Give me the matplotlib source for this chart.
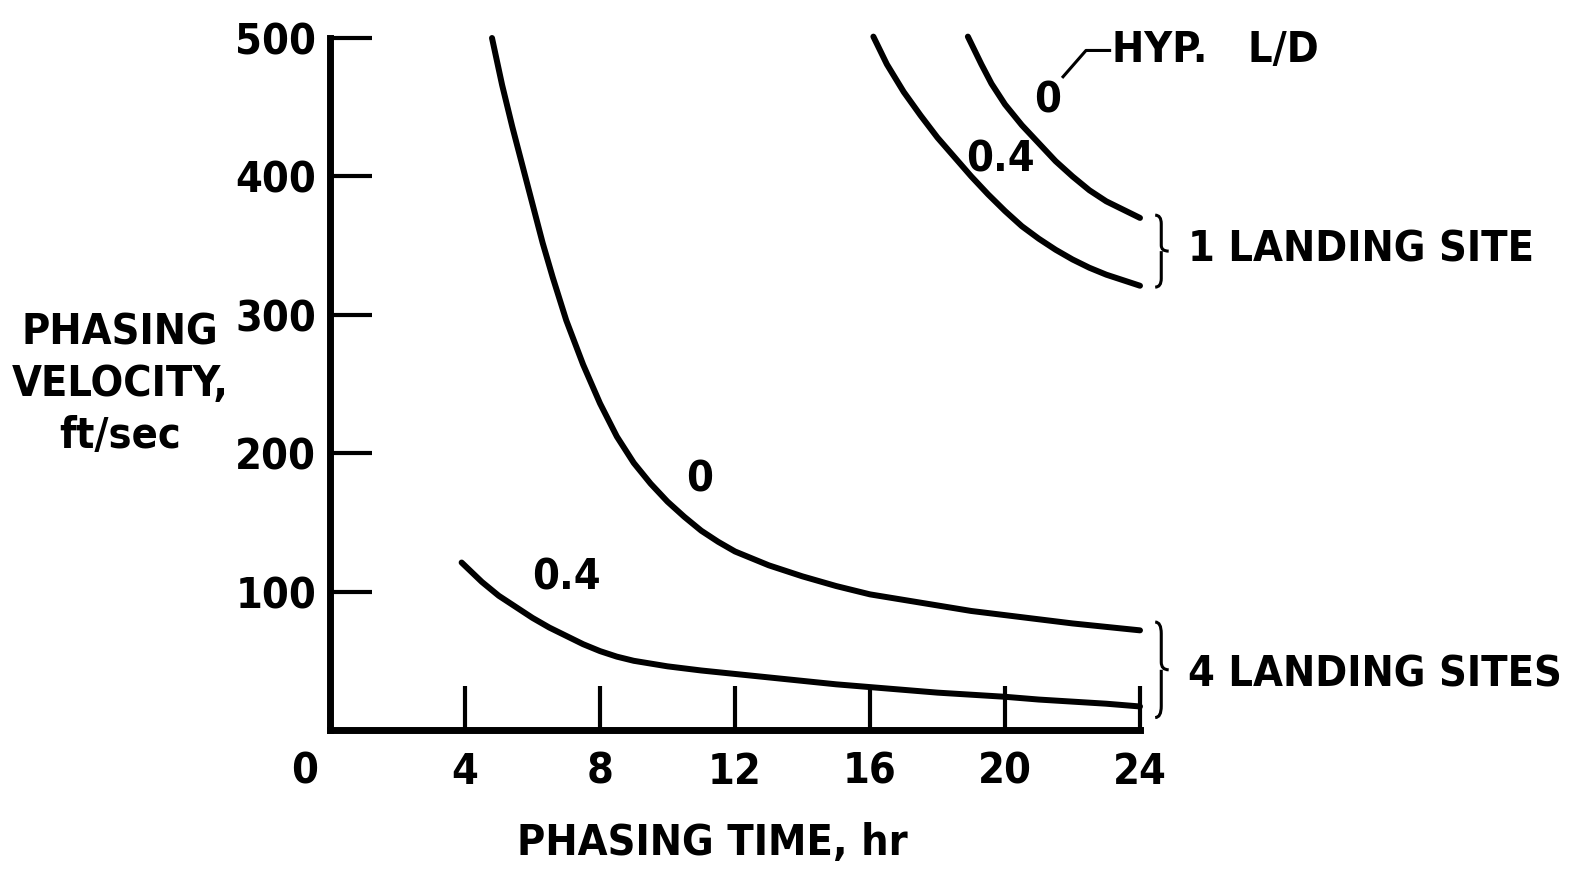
import matplotlib
matplotlib.use("Agg")
import matplotlib.pyplot as plt
import matplotlib.transforms as mtransforms
from matplotlib.path import Path
from matplotlib.patches import PathPatch

plt.rcParams['font.family'] = ['DejaVu Sans']
plt.rcParams['font.stretch'] = 'condensed'

# ---- data ----
x_ticks = [0, 4, 8, 12, 16, 20, 24]
x_tick_labels = ['0', '4', '8', '12', '16', '20', '24']
y_ticks = [100, 200, 300, 400, 500]
y_tick_labels = ['100', '200', '300', '400', '500']

# 4 landing sites, hyp. L/D = 0
t4_ld0 = [4.8, 5.1, 5.4, 5.7, 6.0, 6.3, 6.6, 7.0, 7.5, 8.0, 8.5, 9.0, 9.5, 10.0, 10.5,
          11.0, 11.5, 12.0, 13.0, 14.0, 15.0, 16.0, 17.0, 18.0, 19.0, 20.0, 21.0, 22.0, 23.0, 24.0]
v4_ld0 = [500, 466, 436, 408, 380, 352, 327, 296, 264, 236, 212, 193, 178, 165, 154,
          144, 136, 129, 119, 111, 104, 98, 94, 90, 86, 83, 80, 77, 74.5, 72]
# 4 landing sites, hyp. L/D = 0.4
t4_ld04 = [3.9, 4.5, 5.0, 5.5, 6.0, 6.5, 7.0, 7.5, 8.0, 8.5, 9.0, 10.0, 11.0, 12.0, 13.0, 14.0,
           15.0, 16.0, 17.0, 18.0, 19.0, 20.0, 21.0, 22.0, 23.0, 24.0]
v4_ld04 = [121, 107, 97, 89, 81, 74, 68, 62, 57, 53, 50, 46, 43, 40.5, 38, 35.5,
           33, 31, 29, 27, 25.5, 24, 22, 20.5, 19, 17]
# 1 landing site, hyp. L/D = 0.4
t1_ld04 = [16.1, 16.5, 17.0, 17.5, 18.0, 18.5, 19.0, 19.5, 20.0, 20.5, 21.0, 21.5, 22.0,
           22.5, 23.0, 23.5, 24.0]
v1_ld04 = [501, 481, 461, 444, 428, 414, 400, 387, 375, 364, 355, 347, 340,
           334, 329, 325, 321]
# 1 landing site, hyp. L/D = 0
t1_ld0 = [18.9, 19.3, 19.6, 20.0, 20.5, 21.0, 21.5, 22.0, 22.5, 23.0, 23.5, 24.0]
v1_ld0 = [501, 481, 467, 452, 437, 424, 411, 400, 390, 382, 376, 370]

fig = plt.figure(figsize=(15.75, 8.75), dpi=100)
W, H = 1575, 875
x0px, x24px = 330, 1140
y0px, y500px = 730, 38
ax = fig.add_axes([x0px / W, 1 - y0px / H, (x24px - x0px) / W, (y0px - y500px) / H])
ax.set_xlim(0, 24)
ax.set_ylim(0, 500)

for s in ['top', 'right']:
    ax.spines[s].set_visible(False)
for s in ['left', 'bottom']:
    ax.spines[s].set_linewidth(5)
    ax.spines[s].set_capstyle('projecting')

FS = 31
ax.set_xticks(x_ticks)
ax.set_xticklabels(x_tick_labels)
ax.set_yticks(y_ticks)
ax.set_yticklabels(y_tick_labels)
ax.tick_params(axis='x', direction='in', length=32, width=3, pad=15, labelsize=FS)
ax.tick_params(axis='y', direction='in', length=30, width=3, pad=10, labelsize=FS)
for lab in ax.get_xticklabels() + ax.get_yticklabels():
    lab.set_fontweight('bold')
# shift the "0" label left of the origin, as in the reference
xl = ax.get_xticklabels()[0]
xl.set_transform(xl.get_transform() + mtransforms.ScaledTranslation(-0.25, 0, fig.dpi_scale_trans))
ax.get_xticklines()[0].set_visible(False)
ax.get_xticklines()[1].set_visible(False)

lw = 4.3
for t, v in [(t4_ld0, v4_ld0), (t4_ld04, v4_ld04), (t1_ld04, v1_ld04), (t1_ld0, v1_ld0)]:
    ax.plot(t, v, color='black', lw=lw, solid_capstyle='round', solid_joinstyle='round',
            clip_on=False)

tkw = dict(fontsize=FS, fontweight='bold', color='black')
ax.text(10.96, 181, '0', ha='center', va='center', **tkw)
ax.text(7.02, 110, '0.4', ha='center', va='center', **tkw)
ax.text(19.85, 412, '0.4', ha='center', va='center', **tkw)
ax.text(21.27, 455, '0', ha='center', va='center', **tkw)
ax.plot([21.72, 22.4, 23.1], [472, 491, 491], color='black', lw=2.2, clip_on=False)
ax.text(23.17, 491, 'HYP.   L/D', ha='left', va='center', **tkw)


def brace(ax, x, ybot, ytop, w):
    """Thin right-pointing curly brace in data coordinates."""
    ym = 0.5 * (ybot + ytop)
    h = ytop - ybot
    xs = x + 0.45 * w
    verts = [
        (x, ytop),
        (xs, ytop), (xs, ytop - 0.12 * h),
        (xs, ym + 0.08 * h),
        (xs, ym), (x + w, ym),
        (xs, ym), (xs, ym - 0.08 * h),
        (xs, ybot + 0.12 * h),
        (xs, ybot), (x, ybot),
    ]
    codes = [Path.MOVETO,
             Path.CURVE3, Path.CURVE3,
             Path.LINETO,
             Path.CURVE3, Path.CURVE3,
             Path.MOVETO, Path.CURVE3,
             Path.LINETO,
             Path.CURVE3, Path.CURVE3]
    ax.add_patch(PathPatch(Path(verts, codes), facecolor='none', edgecolor='black',
                           lw=2.2, clip_on=False))


brace(ax, 24.45, 320, 372, 0.4)
brace(ax, 24.45, 9, 78, 0.4)
ax.text(25.42, 347, '1 LANDING SITE', ha='left', va='center', **tkw)
ax.text(25.42, 40, '4 LANDING SITES', ha='left', va='center', **tkw)

fig.text(120 / W, 1 - 384 / H, 'PHASING\nVELOCITY,\nft/sec', ha='center', va='center',
         fontsize=FS, fontweight='bold', linespacing=1.3)
fig.text(712 / W, 1 - 843 / H, 'PHASING TIME, hr', ha='center', va='center',
         fontsize=FS, fontweight='bold')

fig.savefig('out.png', dpi=100)
